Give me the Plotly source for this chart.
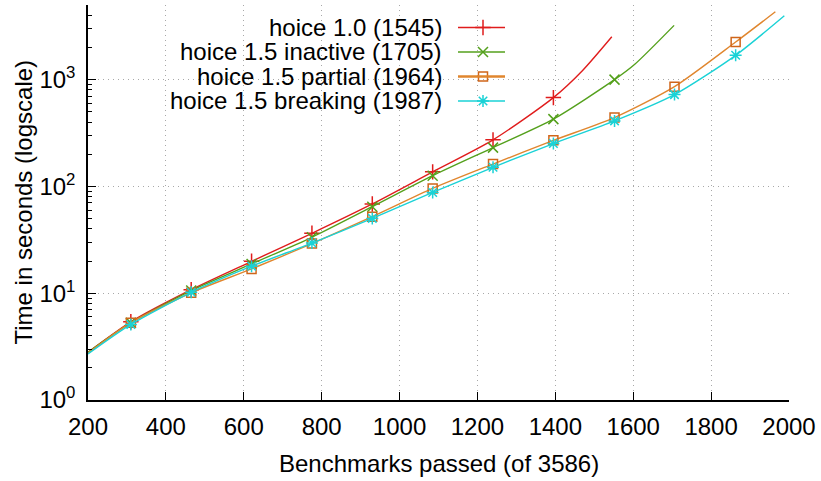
import plotly.graph_objects as go

# ---------------- data ----------------
red_name = "hoice 1.0 (1545)"
red_x = [200, 310, 465, 620, 775, 930, 1085, 1240, 1395, 1470, 1545]
red_y = [2.8, 5.4, 10.8, 19.9, 36.4, 68.5, 137, 273, 679, 1220, 2523]
red_mark = [1, 2, 3, 4, 5, 6, 7, 8]

green_name = "hoice 1.5 inactive (1705)"
green_x = [200, 310, 465, 620, 775, 930, 1085, 1240, 1395, 1552, 1604, 1705]
green_y = [2.8, 5.3, 10.6, 18.8, 33.4, 64.6, 126, 231, 427, 1000, 1393, 3222]
green_mark = [1, 2, 3, 4, 5, 6, 7, 8, 9]

orange_name = "hoice 1.5 partial (1964)"
orange_x = [200, 310, 465, 620, 775, 930, 1085, 1240, 1395, 1552, 1706, 1863, 1965]
orange_y = [2.75, 5.3, 10.1, 16.9, 29.2, 52.1, 95.8, 162, 270, 441, 860, 2250, 4320]
orange_mark = [1, 2, 3, 4, 5, 6, 7, 8, 9, 10, 11]

cyan_name = "hoice 1.5 breaking (1987)"
cyan_x = [200, 310, 465, 620, 775, 930, 1085, 1240, 1395, 1552, 1706, 1863, 1988]
cyan_y = [2.7, 5.1, 10.2, 17.9, 29.5, 50.2, 87.9, 151, 252, 411, 724, 1690, 3965]
cyan_mark = [1, 2, 3, 4, 5, 6, 7, 8, 9, 10, 11]

x_ticks = [200, 400, 600, 800, 1000, 1200, 1400, 1600, 1800, 2000]
y_ticks = [1, 10, 100, 1000]
y_ticktext = ["10<sup>0</sup>", "10<sup>1</sup>", "10<sup>2</sup>", "10<sup>3</sup>"]
x_title = "Benchmarks passed (of 3586)"
y_title = "Time in seconds (logscale)"

# ---------------- styling ----------------
W, H = 821, 481
L, R, T, B = 88, 789, 4.5, 399.7
FONT = "Liberation Sans, Arial, Helvetica, sans-serif"
FS = 24

series = [
    dict(name=red_name, x=red_x, y=red_y, m=red_mark, color="#e01c1c",
         mcolor="#e01c1c", symbol="cross-thin-open", msize=11, lw=1.4),
    dict(name=green_name, x=green_x, y=green_y, m=green_mark, color="#54a01c",
         mcolor="#54a01c", symbol="x-thin-open", msize=10, lw=1.4),
    dict(name=orange_name, x=orange_x, y=orange_y, m=orange_mark, color="#e0862e",
         mcolor="#d0661a", symbol="square-open", msize=9, lw=1.4),
    dict(name=cyan_name, x=cyan_x, y=cyan_y, m=cyan_mark, color="#1ad2d6",
         mcolor="#1ad2d6", symbol="asterisk-open", msize=10, lw=1.4),
]

fig = go.Figure()

for s in series:
    fig.add_trace(go.Scatter(
        x=s["x"], y=s["y"], mode="lines",
        line=dict(color=s["color"], width=s["lw"], shape="spline", smoothing=0.7),
        showlegend=False, hoverinfo="skip"))
    fig.add_trace(go.Scatter(
        x=[s["x"][i] for i in s["m"]], y=[s["y"][i] for i in s["m"]], mode="markers",
        marker=dict(symbol=s["symbol"], size=s["msize"], color=s["mcolor"],
                    line=dict(color=s["mcolor"], width=1.5)),
        showlegend=False, hoverinfo="skip"))


def px2x(px):
    return (px - L) / (R - L)


def px2y(py):
    return (B - py) / (B - T)


# ---------------- custom gnuplot-style key ----------------
shapes = [dict(type="rect", xref="paper", yref="paper",
               x0=px2x(165), x1=px2x(522), y0=px2y(113), y1=px2y(13),
               fillcolor="white", line=dict(width=0), layer="between")]
annotations = []
key_y = [27, 51.5, 76, 100.5]
for s, ky in zip(series, key_y):
    lw = 2.6 if s["name"] == orange_name else 1.6
    shapes.append(dict(type="line", xref="paper", yref="paper",
                       x0=px2x(458), x1=px2x(505), y0=px2y(ky), y1=px2y(ky),
                       line=dict(color=s["color"], width=lw), layer="above"))
    annotations.append(dict(text=s["name"], xref="paper", yref="paper",
                            x=px2x(444), y=px2y(ky), xanchor="right", yanchor="middle",
                            showarrow=False, font=dict(family=FONT, size=FS, color="black")))
    fig.add_trace(go.Scatter(
        x=[px2x(483)], y=[px2y(ky)], xaxis="x2", yaxis="y2", mode="markers",
        marker=dict(symbol=s["symbol"], size=s["msize"], color=s["mcolor"],
                    line=dict(color=s["mcolor"], width=1.5)),
        showlegend=False, hoverinfo="skip", cliponaxis=False))

# axis titles
annotations.append(dict(text=x_title, xref="paper", yref="paper",
                        x=0.5, y=px2y(463), xanchor="center", yanchor="middle",
                        showarrow=False, font=dict(family=FONT, size=FS, color="black")))
annotations.append(dict(text=y_title, xref="paper", yref="paper",
                        x=px2x(23), y=0.5, xanchor="center", yanchor="middle", textangle=-90,
                        showarrow=False, font=dict(family=FONT, size=FS, color="black")))

fig.update_layout(
    width=W, height=H,
    margin=dict(l=L, r=W - R, t=T, b=H - B, pad=0, autoexpand=False),
    paper_bgcolor="white", plot_bgcolor="white",
    font=dict(family=FONT, size=FS, color="black"),
    showlegend=False,
    shapes=shapes, annotations=annotations,
    xaxis=dict(range=[200, 2000], tickvals=x_ticks, ticks="inside", ticklen=8,
               tickwidth=1.2, tickcolor="black", showline=True, linecolor="black",
               linewidth=1.5, showgrid=True, gridcolor="#a8a8a8", griddash="1px,4px",
               gridwidth=1, zeroline=False, ticklabelstandoff=4, automargin=False,
               tickfont=dict(family=FONT, size=FS)),
    yaxis=dict(type="log", range=[0, 3.699], tickvals=y_ticks, ticktext=y_ticktext,
               ticks="inside", ticklen=8, tickwidth=1.2, tickcolor="black",
               showline=True, linecolor="black", linewidth=1.5,
               showgrid=True, gridcolor="#a8a8a8", griddash="1px,4px", gridwidth=1,
               zeroline=False, ticklabelstandoff=6, automargin=False,
               minor=dict(ticks="inside", ticklen=4, dtick="D1", tickcolor="black",
                          showgrid=False),
               tickfont=dict(family=FONT, size=FS)),
    xaxis2=dict(overlaying="x", range=[0, 1], visible=False, anchor="y2"),
    yaxis2=dict(overlaying="y", range=[0, 1], visible=False, anchor="x2"),
)

fig.write_html("out.html", config={"displayModeBar": False},
               post_script="document.body.style.margin='0';document.body.style.padding='0';")
